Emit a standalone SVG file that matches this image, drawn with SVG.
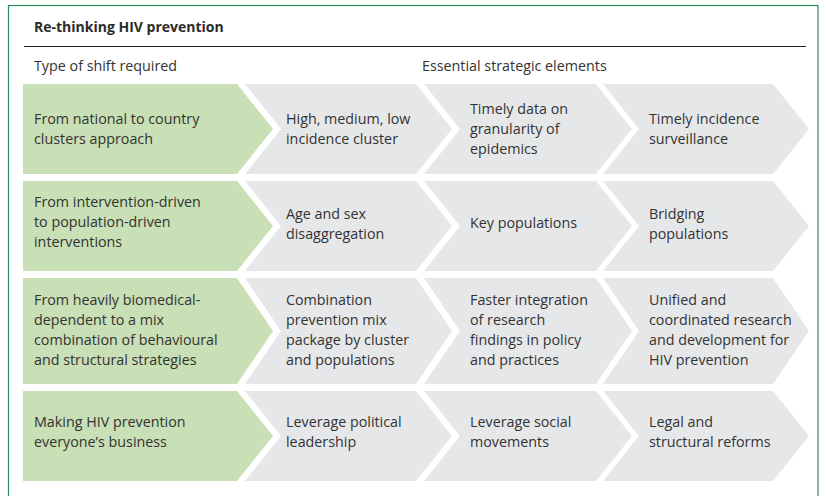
<svg xmlns="http://www.w3.org/2000/svg" width="826" height="496" viewBox="0 0 826 496">
<style>
  text { font-family: "Open Sans", "Liberation Sans", sans-serif; font-size: 14.3px; fill: #333333; }
  .title { font-weight: 700; font-size: 14px; fill: #2b2b2b; }
  .shift { fill: #c9dfb5; }
  .elem { fill: #e6e7e9; }
</style>
<rect width="826" height="496" fill="#ffffff"/>
<rect x="8.5" y="5.5" width="809.5" height="520" fill="none" stroke="#2e8c5a" stroke-width="1.2"/>
<g id="header">
  <text class="title" x="34" y="32">Re-thinking HIV prevention</text>
  <line x1="24" y1="46.5" x2="806" y2="46.5" stroke="#222" stroke-width="1"/>
  <text x="34" y="71">Type of shift required</text>
  <text x="422" y="71">Essential strategic elements</text>
</g>

<!-- Row 1 -->
<g id="r1-shift">
  <polygon class="shift" points="23,84 237,84 273,129 237,174 23,174"/>
  <text x="34" y="124">From national to country</text>
  <text x="34" y="144">clusters approach</text>
</g>
<g id="r1-e1">
  <polygon class="elem" points="245,84 416,84 452,129 416,174 245,174 281,129"/>
  <text x="286" y="124">High, medium, low</text>
  <text x="286" y="144">incidence cluster</text>
</g>
<g id="r1-e2">
  <polygon class="elem" points="424,84 596,84 632,129 596,174 424,174 460,129"/>
  <text x="470" y="114">Timely data on</text>
  <text x="470" y="134">granularity of</text>
  <text x="470" y="154">epidemics</text>
</g>
<g id="r1-e3">
  <polygon class="elem" points="603,84 773,84 809,129 773,174 603,174 639,129"/>
  <text x="649" y="124">Timely incidence</text>
  <text x="649" y="144">surveillance</text>
</g>

<!-- Row 2 -->
<g id="r2-shift">
  <polygon class="shift" points="23,181 237,181 273,226 237,271 23,271"/>
  <text x="34" y="207">From intervention-driven</text>
  <text x="34" y="227">to population-driven</text>
  <text x="34" y="247">interventions</text>
</g>
<g id="r2-e1">
  <polygon class="elem" points="245,181 416,181 452,226 416,271 245,271 281,226"/>
  <text x="286" y="219">Age and sex</text>
  <text x="286" y="239">disaggregation</text>
</g>
<g id="r2-e2">
  <polygon class="elem" points="424,181 596,181 632,226 596,271 424,271 460,226"/>
  <text x="470" y="228">Key populations</text>
</g>
<g id="r2-e3">
  <polygon class="elem" points="603,181 773,181 809,226 773,271 603,271 639,226"/>
  <text x="649" y="219">Bridging</text>
  <text x="649" y="239">populations</text>
</g>

<!-- Row 3 -->
<g id="r3-shift">
  <polygon class="shift" points="23,278 237,278 273,331 237,384 23,384"/>
  <text x="34" y="305">From heavily biomedical-</text>
  <text x="34" y="325">dependent to a mix</text>
  <text x="34" y="345">combination of behavioural</text>
  <text x="34" y="365">and structural strategies</text>
</g>
<g id="r3-e1">
  <polygon class="elem" points="245,278 416,278 452,331 416,384 245,384 281,331"/>
  <text x="286" y="305">Combination</text>
  <text x="286" y="325">prevention mix</text>
  <text x="286" y="345">package by cluster</text>
  <text x="286" y="365">and populations</text>
</g>
<g id="r3-e2">
  <polygon class="elem" points="424,278 596,278 632,331 596,384 424,384 460,331"/>
  <text x="470" y="305">Faster integration</text>
  <text x="470" y="325">of research</text>
  <text x="470" y="345">findings in policy</text>
  <text x="470" y="365">and practices</text>
</g>
<g id="r3-e3">
  <polygon class="elem" points="603,278 773,278 809,331 773,384 603,384 639,331"/>
  <text x="649" y="305">Unified and</text>
  <text x="649" y="325">coordinated research</text>
  <text x="649" y="345">and development for</text>
  <text x="649" y="365">HIV prevention</text>
</g>

<!-- Row 4 -->
<g id="r4-shift">
  <polygon class="shift" points="23,391 237,391 273,436 237,481 23,481"/>
  <text x="34" y="427">Making HIV prevention</text>
  <text x="34" y="447">everyone’s business</text>
</g>
<g id="r4-e1">
  <polygon class="elem" points="245,391 416,391 452,436 416,481 245,481 281,436"/>
  <text x="286" y="427">Leverage political</text>
  <text x="286" y="447">leadership</text>
</g>
<g id="r4-e2">
  <polygon class="elem" points="424,391 596,391 632,436 596,481 424,481 460,436"/>
  <text x="470" y="427">Leverage social</text>
  <text x="470" y="447">movements</text>
</g>
<g id="r4-e3">
  <polygon class="elem" points="603,391 773,391 809,436 773,481 603,481 639,436"/>
  <text x="649" y="427">Legal and</text>
  <text x="649" y="447">structural reforms</text>
</g>
</svg>
